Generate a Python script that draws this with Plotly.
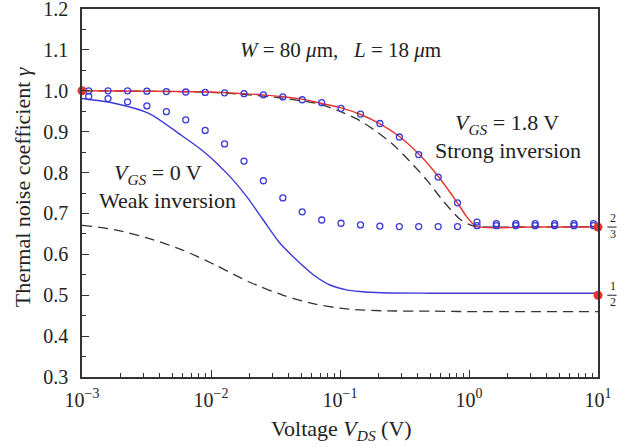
import plotly.graph_objects as go

# ---- data -------------------------------------------------------------
# drain-source voltage grid of the measured points (log10 of V_DS in volts)
log_vds_meas = [-2.948, -2.798, -2.647, -2.497, -2.346, -2.196, -2.045, -1.895,
                -1.744, -1.594, -1.443, -1.293, -1.142, -0.992, -0.841, -0.691,
                -0.540, -0.390, -0.239, -0.089, 0.062, 0.212, 0.363, 0.513,
                0.664, 0.814, 0.965]
gamma_meas_strong = [1.000, 1.000, 1.000, 0.999, 0.998, 0.997, 0.996, 0.995,
                     0.993, 0.990, 0.985, 0.978, 0.971, 0.957, 0.943, 0.920,
                     0.887, 0.844, 0.789, 0.726, 0.679, 0.675, 0.675, 0.675,
                     0.675, 0.675, 0.675]
gamma_meas_weak = [0.986, 0.981, 0.973, 0.963, 0.949, 0.929, 0.903, 0.870,
                   0.828, 0.780, 0.738, 0.704, 0.684, 0.676, 0.672, 0.669,
                   0.668, 0.668, 0.668, 0.668, 0.670, 0.670, 0.670, 0.670,
                   0.670, 0.670, 0.670]

# strong inversion (V_GS = 1.8 V), model curve
log_vds_strong = [-3.0, -2.5, -2.0, -1.75, -1.6, -1.44, -1.285, -1.14, -0.99,
                  -0.84, -0.69, -0.535, -0.385, -0.235, -0.09, -0.02, 0.03,
                  0.07, 0.5, 1.0]
gamma_strong = [1.000, 0.999, 0.997, 0.993, 0.990, 0.9855, 0.979, 0.969, 0.958,
                0.942, 0.919, 0.887, 0.844, 0.789, 0.726, 0.693, 0.675,
                0.667, 0.667, 0.667]

# strong inversion, simplified model (dashed)
log_vds_strong_alt = [-3.0, -2.5, -2.0, -1.75, -1.45, -1.155, -0.974, -0.845,
                      -0.716, -0.587, -0.457, -0.328, -0.199, -0.07, 0.008,
                      0.06, 0.5, 1.0]
gamma_strong_alt = [1.000, 0.999, 0.996, 0.991, 0.982, 0.967, 0.946, 0.927,
                    0.900, 0.868, 0.827, 0.782, 0.730, 0.686, 0.672,
                    0.668, 0.667, 0.667]

# weak inversion (V_GS = 0 V), model curve
log_vds_weak = [-3.0, -2.742, -2.483, -2.225, -2.044, -1.853, -1.723, -1.595,
                -1.465, -1.336, -1.207, -1.078, -0.948, -0.845, -0.674, -0.3,
                0.0, 1.0]
gamma_weak = [0.981, 0.969, 0.945, 0.890, 0.848, 0.790, 0.741, 0.684,
              0.627, 0.586, 0.550, 0.525, 0.513, 0.509, 0.506, 0.505,
              0.505, 0.505]

# weak inversion, simplified model (dashed)
log_vds_weak_alt = [-3.0, -2.742, -2.483, -2.225, -1.967, -1.708, -1.45,
                    -1.191, -0.933, -0.674, -0.3, 0.0, 1.0]
gamma_weak_alt = [0.671, 0.660, 0.639, 0.611, 0.574, 0.533, 0.501,
                  0.478, 0.466, 0.462, 0.461, 0.460, 0.460]

# limiting values marked on the plot
limit_vds = [1e-3, 10.0, 10.0]
limit_gamma = [1.0, 2 / 3, 1 / 2]

x_ticks = [1e-3, 1e-2, 1e-1, 1.0, 10.0]
x_ticklabels = ["10<sup>−3</sup>", "10<sup>−2</sup>", "10<sup>−1</sup>",
                "10<sup>0</sup>", "10<sup>1</sup>"]
y_ticks = [0.3, 0.4, 0.5, 0.6, 0.7, 0.8, 0.9, 1.0, 1.1, 1.2]
y_ticklabels = ["0.3", "0.4", "0.5", "0.6", "0.7", "0.8", "0.9", "1.0", "1.1", "1.2"]

# ---- styling ------------------------------------------------------------
SERIF = "Liberation Serif, Times New Roman, serif"
TXT = "#222222"
AX = "#333333"
BLUE = "#3a3ad6"
RED = "#e8322f"
DASH = "#333333"


def v(logs):
    return [10 ** e for e in logs]


fig = go.Figure()

fig.add_trace(go.Scatter(x=v(log_vds_weak_alt), y=gamma_weak_alt, mode="lines",
                         line=dict(color=DASH, width=1.3, dash="10px,6px", shape="spline", smoothing=0.8)))
fig.add_trace(go.Scatter(x=v(log_vds_strong_alt), y=gamma_strong_alt, mode="lines",
                         line=dict(color=DASH, width=1.3, dash="10px,6px", shape="spline", smoothing=0.8)))
fig.add_trace(go.Scatter(x=v(log_vds_weak), y=gamma_weak, mode="lines",
                         line=dict(color=BLUE, width=1.4, shape="spline", smoothing=0.8)))
fig.add_trace(go.Scatter(x=v(log_vds_strong), y=gamma_strong, mode="lines",
                         line=dict(color=RED, width=1.4, shape="spline", smoothing=0.8)))
fig.add_trace(go.Scatter(x=v(log_vds_meas), y=gamma_meas_weak, mode="markers",
                         marker=dict(symbol="circle-open", size=6, color=BLUE, line=dict(width=1.3))))
fig.add_trace(go.Scatter(x=v(log_vds_meas), y=gamma_meas_strong, mode="markers",
                         marker=dict(symbol="circle-open", size=6, color=BLUE, line=dict(width=1.3))))
fig.add_trace(go.Scatter(x=limit_vds, y=limit_gamma, mode="markers", cliponaxis=False,
                         marker=dict(symbol="circle", size=9, color=RED)))

annotations = [
    dict(x=-1.0, y=1.100, text="<i>W</i> = 80 <i>μ</i>m,   <i>L</i> = 18 <i>μ</i>m", font=dict(size=21)),
    dict(x=-2.41, y=0.796, text="<i>V</i><sub><i>GS</i></sub> = 0 V", font=dict(size=22)),
    dict(x=-2.34, y=0.731, text="Weak inversion", font=dict(size=22)),
    dict(x=0.298, y=0.918, text="<i>V</i><sub><i>GS</i></sub> = 1.8 V", font=dict(size=22)),
    dict(x=0.302, y=0.855, text="Strong inversion", font=dict(size=22)),
    dict(x=1, y=2 / 3, xshift=15, yshift=9, text="2", font=dict(size=12)),
    dict(x=1, y=2 / 3, xshift=15, yshift=-7, text="3", font=dict(size=12)),
    dict(x=1, y=1 / 2, xshift=15, yshift=9, text="1", font=dict(size=12)),
    dict(x=1, y=1 / 2, xshift=15, yshift=-7, text="2", font=dict(size=12)),
]
for a in annotations:
    a.update(xref="x", yref="y", showarrow=False, xanchor="center", yanchor="middle")
    a["font"].update(family=SERIF, color=TXT)

# axis titles
annotations += [
    dict(xref="paper", yref="paper", x=0.502, y=-0.144, showarrow=False,
         xanchor="center", yanchor="middle",
         text="Voltage <i>V</i><sub><i>DS</i></sub> (V)", font=dict(size=22, family=SERIF, color=TXT)),
    dict(xref="paper", yref="paper", x=-0.116, y=0.516, showarrow=False, textangle=-90,
         xanchor="center", yanchor="middle",
         text="Thermal noise coefficient <i>γ</i>", font=dict(size=22, family=SERIF, color=TXT)),
]
fig.update_layout(annotations=annotations)

# fraction bars next to the right axis
for val in (2 / 3, 1 / 2):
    fig.add_shape(type="line", xref="paper", yref="y", x0=1.018, x1=1.036, y0=val, y1=val,
                  line=dict(color=TXT, width=1))

fig.update_layout(
    width=637, height=447,
    margin=dict(l=82, r=39, t=9, b=70),
    paper_bgcolor="white", plot_bgcolor="white",
    showlegend=False,
    font=dict(family=SERIF, color=TXT, size=20),
    xaxis=dict(
        type="log", range=[-3, 1], tickmode="array", tickvals=x_ticks, ticktext=x_ticklabels,
        automargin=False, showgrid=False, zeroline=False,
        showline=True, linecolor=AX, linewidth=1.5, mirror=True,
        ticks="inside", ticklen=7, tickcolor=AX, tickwidth=1,
        minor=dict(ticks="inside", ticklen=4, tickcolor=AX, dtick="D1", showgrid=False),
        tickfont=dict(size=20, family=SERIF, color=TXT),
        ticklabelstandoff=4, ticklabeloverflow="allow",
    ),
    yaxis=dict(
        range=[0.3, 1.2], tickmode="array", tickvals=y_ticks, ticktext=y_ticklabels,
        automargin=False, showgrid=False, zeroline=False,
        showline=True, linecolor=AX, linewidth=1.5, mirror=True,
        ticks="inside", ticklen=7, tickcolor=AX, tickwidth=1,
        minor=dict(ticks="inside", ticklen=4, tickcolor=AX, dtick=0.05, showgrid=False),
        tickfont=dict(size=20, family=SERIF, color=TXT),
        ticklabelstandoff=8, ticklabeloverflow="allow",
    ),
)

fig.write_html("out.html")
